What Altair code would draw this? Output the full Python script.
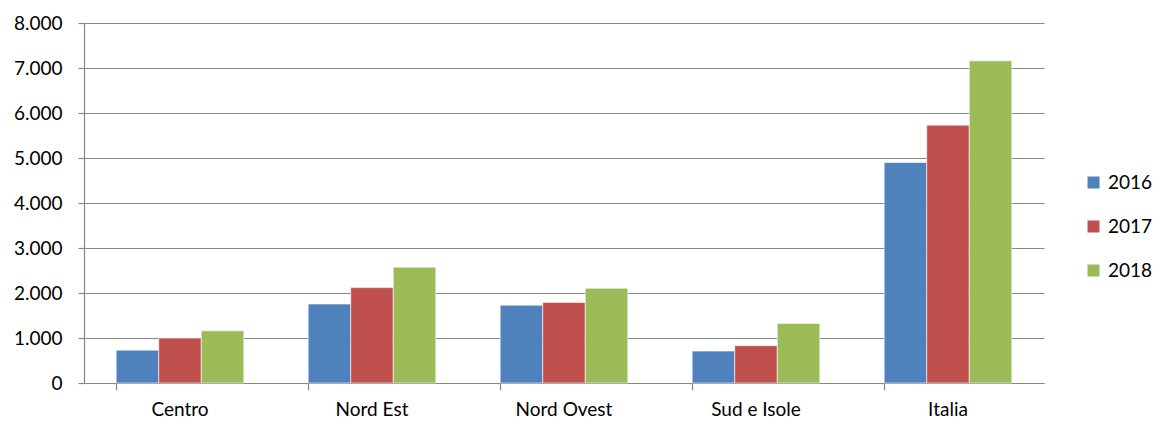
import altair as alt
import pandas as pd

regions = ["Centro", "Nord Est", "Nord Ovest", "Sud e Isole", "Italia"]
years = ["2016", "2017", "2018"]
v2016 = [730, 1755, 1730, 710, 4900]
v2017 = [1000, 2120, 1790, 830, 5730]
v2018 = [1160, 2575, 2105, 1325, 7160]
colors = ["#4F81BD", "#C0504D", "#9BBB59"]
y_ticks = [0, 1000, 2000, 3000, 4000, 5000, 6000, 7000, 8000]

rows = []
for yr, vals in zip(years, [v2016, v2017, v2018]):
    for r, v in zip(regions, vals):
        rows.append({"regione": r, "anno": yr, "valore": v})
df = pd.DataFrame(rows)

FONT = "Lato"
GRID = "#878787"

chart = alt.Chart(df).mark_bar(stroke="white", strokeWidth=0.6).encode(
    x=alt.X(
        "regione:N", sort=regions, title=None,
        scale=alt.Scale(paddingInner=0.335, paddingOuter=0.1675),
        axis=alt.Axis(labelAngle=0, bandPosition=0, ticks=True, tickSize=7,
                      tickColor=GRID, tickWidth=1.2, domainColor=GRID, domainWidth=1.2,
                      labelPadding=10, grid=False, labelFontSize=19, labelFont=FONT,
                      labelColor="black"),
    ),
    xOffset=alt.XOffset("anno:N", sort=years),
    y=alt.Y(
        "valore:Q", title=None, scale=alt.Scale(domain=[0, 8000], nice=False),
        axis=alt.Axis(values=y_ticks,
                      labelExpr="replace(format(datum.value, ',d'), ',', '.')",
                      grid=True, gridColor=GRID, gridWidth=1.2, tickSize=6,
                      tickColor=GRID, tickWidth=1.2, domainColor=GRID, domainWidth=1.2,
                      labelPadding=16, labelFontSize=19, labelFont=FONT,
                      labelColor="black"),
    ),
    color=alt.Color(
        "anno:N", scale=alt.Scale(domain=years, range=colors),
        legend=alt.Legend(title=None, orient="none", legendX=1000, legendY=150,
                          symbolType="square", symbolSize=144, labelFontSize=19,
                          labelFont=FONT, labelColor="black", rowPadding=24,
                          labelOffset=5, symbolStrokeWidth=0),
    ),
).properties(
    width=960, height=360,
    autosize=alt.AutoSizeParams(type="none"),
    padding={"left": 76, "top": 15, "right": 109, "bottom": 36},
).configure_view(stroke=None)

chart.save("out.html", embed_options={"renderer": "svg", "actions": False})
